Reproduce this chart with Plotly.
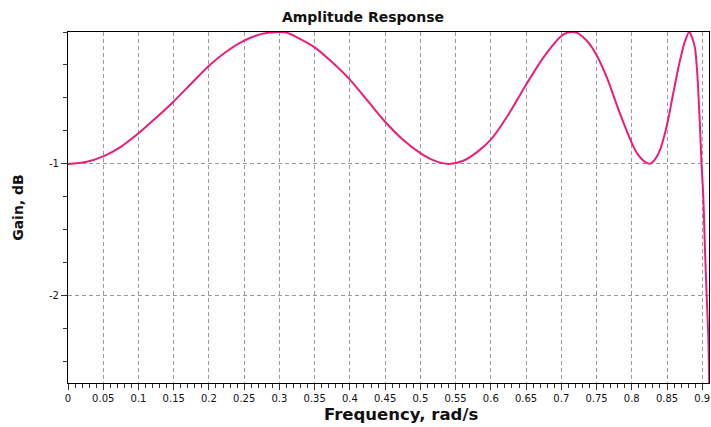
import plotly.graph_objects as go

# Amplitude response samples (frequency in rad/s, gain in dB)
freq = [0.000, 0.025, 0.050, 0.075, 0.100, 0.125, 0.150, 0.175, 0.200, 0.225,
        0.250, 0.275, 0.290, 0.300, 0.310, 0.325, 0.350, 0.375, 0.400, 0.425,
        0.450, 0.475, 0.500, 0.520, 0.540, 0.560, 0.580, 0.600, 0.625, 0.650,
        0.675, 0.700, 0.708, 0.717, 0.724, 0.730, 0.740, 0.750, 0.765, 0.783,
        0.800, 0.807, 0.814, 0.820, 0.826, 0.833, 0.840, 0.846, 0.851, 0.859,
        0.868, 0.8755, 0.8816, 0.8855, 0.8897, 0.8925, 0.8944, 0.8968, 0.8990,
        0.9015, 0.9039, 0.9063, 0.9086, 0.9100]
gain = [-1.000, -0.985, -0.942, -0.870, -0.768, -0.650, -0.526, -0.390, -0.255, -0.148,
        -0.066, -0.014, -0.003, 0.000, -0.004, -0.040, -0.116, -0.230, -0.361, -0.520,
        -0.680, -0.815, -0.918, -0.975, -1.000, -0.978, -0.912, -0.816, -0.625, -0.400,
        -0.190, -0.030, -0.006, 0.000, -0.010, -0.035, -0.090, -0.175, -0.350, -0.615,
        -0.840, -0.915, -0.962, -0.988, -0.998, -0.965, -0.895, -0.790, -0.680, -0.460,
        -0.225, -0.070, 0.000, -0.040, -0.120, -0.280, -0.450, -0.720, -1.000,
        -1.245, -1.650, -2.000, -2.310, -2.700]

x_ticks = [round(0.05 * i, 2) for i in range(19)]
x_labels = ["0", "0.05", "0.1", "0.15", "0.2", "0.25", "0.3", "0.35", "0.4", "0.45",
            "0.5", "0.55", "0.6", "0.65", "0.7", "0.75", "0.8", "0.85", "0.9"]
y_ticks = [-1, -2]
y_labels = ["-1", "-2"]

fig = go.Figure()
fig.add_trace(go.Scatter(
    x=freq, y=gain, mode="lines",
    line=dict(color="#ea1e79", width=2, shape="spline", smoothing=0.8),
    hoverinfo="skip", showlegend=False,
))

tick_font = dict(family="DejaVu Sans", size=10, color="#111111")
grid_style = dict(showgrid=True, gridcolor="#9a9a9a", gridwidth=1, griddash="4px,3px")

fig.update_xaxes(
    range=[0, 0.9096], tickvals=x_ticks, ticktext=x_labels,
    ticks="outside", ticklen=6, tickcolor="#333333", tickfont=tick_font,
    showline=True, linecolor="#000000", linewidth=1, mirror=True,
    zeroline=False,
    minor=dict(dtick=0.01, tick0=0, ticks="outside", ticklen=4, tickcolor="#333333", showgrid=False),
    **grid_style,
)
fig.update_yaxes(
    range=[-2.66, 0], tickvals=y_ticks, ticktext=y_labels,
    ticks="outside", ticklen=6, tickcolor="#333333", tickfont=tick_font,
    showline=True, linecolor="#000000", linewidth=1, mirror=True,
    zeroline=False,
    minor=dict(dtick=0.25, tick0=0, ticks="outside", ticklen=4, tickcolor="#333333", showgrid=False),
    **grid_style,
)

fig.update_layout(
    width=711, height=427,
    margin=dict(l=68, r=2, t=32, b=44),
    paper_bgcolor="white", plot_bgcolor="white",
    title=dict(text="<b>Amplitude Response</b>", xref="container", x=0.5105,
               xanchor="center", y=1 - 17 / 427, yanchor="middle",
               font=dict(family="DejaVu Sans", size=14, color="#111111")),
    annotations=[
        dict(text="<b>Frequency, rad/s</b>", xref="paper", yref="paper",
             x=0.52, y=-0.09, xanchor="center", yanchor="middle", showarrow=False,
             font=dict(family="DejaVu Sans", size=16.5, color="#111111")),
        dict(text="<b>Gain, dB</b>", xref="paper", yref="paper",
             x=-0.079, y=0.5, xanchor="center", yanchor="middle", showarrow=False,
             textangle=-90,
             font=dict(family="DejaVu Sans", size=14, color="#111111")),
    ],
)

fig.write_html("out.html")
